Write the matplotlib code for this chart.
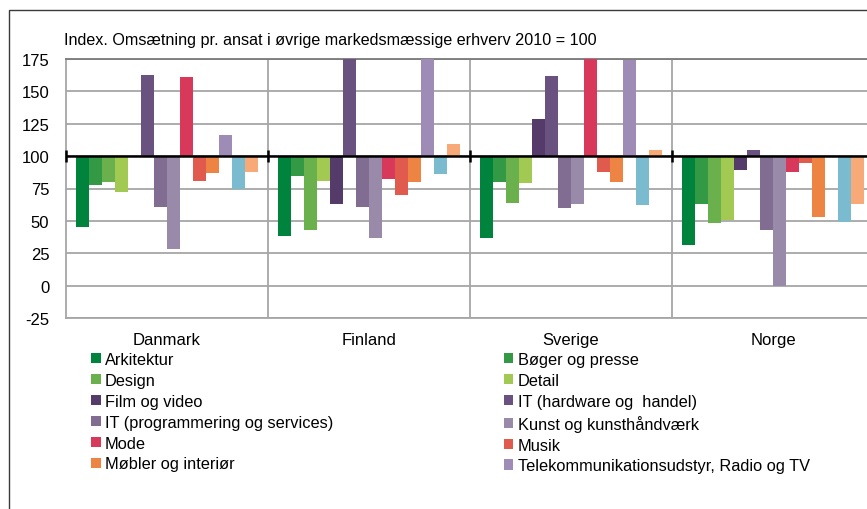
import matplotlib
matplotlib.use("Agg")
import matplotlib.pyplot as plt
import numpy as np
from matplotlib.patches import Patch, Rectangle

plt.rcParams['font.family'] = ['Liberation Sans', 'DejaVu Sans']

countries = ["Danmark", "Finland", "Sverige", "Norge"]

series = [
    "Arkitektur", "Bøger og presse", "Design", "Detail", "Film og video",
    "IT (hardware og  handel)", "IT (programmering og services)",
    "Kunst og kunsthåndværk", "Mode", "Musik", "Møbler og interiør",
    "Telekommunikationsudstyr, Radio og TV", "Serie 13", "Serie 14",
]

colors = [
    "#00843D", "#339944", "#6AB04C", "#A2C952", "#553B6A", "#6A5280",
    "#826D92", "#9A8AAA", "#D8395A", "#E05B4E", "#EE8443", "#9E8BB6",
    "#7BBBD0", "#F7AA77",
]

# index values per series: Danmark, Finland, Sverige, Norge
arkitektur = [45, 38, 37, 31]
boger = [78, 85, 80, 63]
design = [80, 43, 64, 48]
detail = [72, 81, 79, 51]
film = [99, 63, 129, 89]
it_hardware = [163, 185, 162, 105]
it_prog = [61, 61, 60, 43]
kunst = [28, 37, 63, 0]
mode = [161, 82, 185, 88]
musik = [81, 70, 88, 95]
mobler = [87, 80, 80, 53]
telekom = [116, 185, 174, 99]
serie13 = [75, 86, 62, 49]
serie14 = [88, 109, 105, 63]

values = [arkitektur, boger, design, detail, film, it_hardware, it_prog,
          kunst, mode, musik, mobler, telekom, serie13, serie14]

yticks = [-25, 0, 25, 50, 75, 100, 125, 150, 175]

W, H = 867, 510
fig = plt.figure(figsize=(W / 100, H / 100), dpi=100)

# outer chart frame (cut off on the right and bottom)
fig.patches.append(Rectangle((8.5 / W, -0.1), 1.2, 1.1 - 10.5 / H,
                             transform=fig.transFigure, fill=False,
                             edgecolor="#3a3a3a", linewidth=1.0))

ax = fig.add_axes([66 / W, 1 - 319 / H, 808 / W, 259 / H])

n = len(series)
group = 0.9
w = group / n
x = np.arange(len(countries))
for j in range(n):
    offs = -group / 2 + w * (j + 0.5)
    heights = [v - 100 for v in values[j]]
    ax.bar(x + offs, heights, width=w, bottom=100, color=colors[j],
           linewidth=0, zorder=3)

ax.set_xlim(-0.5, len(countries) - 0.5)
ax.set_ylim(-25, 175)
ax.set_yticks(yticks)
ax.set_yticklabels([str(t) for t in yticks], fontsize=12)
ax.set_xticks(x)
ax.set_xticklabels(countries, fontsize=12)
ax.tick_params(axis="both", length=0)
ax.tick_params(axis="y", pad=12)
ax.tick_params(axis="x", pad=10)

ax.grid(axis="y", color="#a6a6a6", linewidth=1.3, zorder=0)
for b in np.arange(0.5, len(countries) - 0.5):
    ax.axvline(b, color="#a6a6a6", linewidth=1.3, zorder=0)
for s in ["left", "bottom"]:
    ax.spines[s].set_color("#a6a6a6")
    ax.spines[s].set_linewidth(1.3)
ax.spines["top"].set_color("#7a7a7a")
ax.spines["top"].set_linewidth(1.3)
ax.spines["right"].set_visible(False)

# category axis at 100
ax.axhline(100, color="black", linewidth=1.8, zorder=4)
ax.plot(np.arange(-0.5, len(countries)), [100] * (len(countries) + 1),
        linestyle="none", marker="|", markersize=9, markeredgewidth=1.8,
        color="black", zorder=4, clip_on=False)

fig.text(64 / W, 1 - 41 / H,
         "Index. Omsætning pr. ansat i øvrige markedsmæssige erhverv 2010 = 100",
         fontsize=11.6, va="center", ha="left")

order = [0, 2, 4, 6, 8, 10, 1, 3, 5, 7, 9, 11]
handles = [Patch(facecolor=colors[i], label=series[i]) for i in order]
fig.legend(handles=handles, ncol=2, loc="upper left",
           bbox_to_anchor=(91 / W, 1 - 353 / H), frameon=False,
           fontsize=11.8, handlelength=0.6, handleheight=0.6,
           handletextpad=0.25, columnspacing=10.4, labelspacing=0.36,
           borderaxespad=0, borderpad=0)

fig.savefig("out.png", dpi=100)
